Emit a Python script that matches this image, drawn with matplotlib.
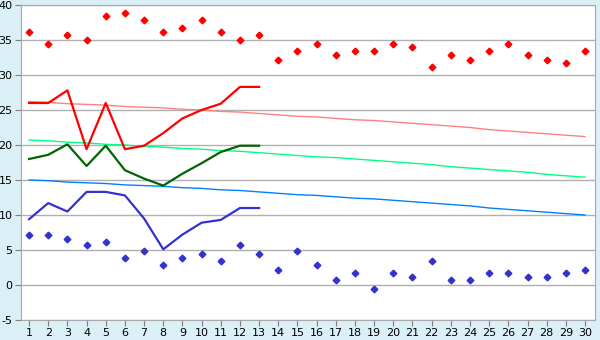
import numpy as np
import matplotlib.pyplot as plt

plt.rcParams['axes.unicode_minus'] = False

days = np.arange(1, 31)

# daily extremes (all month)
tmax_pts = [36.1, 34.4, 35.7, 35.0, 38.4, 38.9, 37.8, 36.1, 36.7, 37.8,
            36.1, 35.0, 35.7, 32.2, 33.4, 34.4, 32.8, 33.4, 33.4, 34.4,
            34.0, 31.1, 32.8, 32.2, 33.4, 34.4, 32.8, 32.2, 31.7, 33.4]
tmin_pts = [7.2, 7.2, 6.6, 5.7, 6.1, 3.9, 4.9, 2.8, 3.9, 4.4,
            3.4, 5.7, 4.4, 2.2, 4.9, 2.8, 0.7, 1.7, -0.6, 1.7,
            1.1, 3.4, 0.7, 0.7, 1.7, 1.7, 1.1, 1.1, 1.7, 2.2]

# observed lines (days 1-13)
obs_max = [26.0, 26.0, 27.8, 19.4, 26.0, 19.4, 19.9, 21.7, 23.8, 25.0, 25.9, 28.3, 28.3]
obs_avg = [18.0, 18.6, 20.1, 17.0, 19.9, 16.4, 15.2, 14.2, 15.9, 17.4, 19.0, 19.9, 19.9]
obs_min = [9.4, 11.7, 10.5, 13.3, 13.3, 12.8, 9.5, 5.1, 7.2, 8.9, 9.3, 11.0, 11.0]

# normals
norm_max = [26.2, 26.1, 25.9, 25.8, 25.7, 25.5, 25.4, 25.3, 25.1, 25.0,
            24.8, 24.7, 24.5, 24.3, 24.1, 24.0, 23.8, 23.6, 23.5, 23.3,
            23.1, 22.9, 22.7, 22.5, 22.2, 22.0, 21.8, 21.6, 21.4, 21.2]
norm_avg = [20.7, 20.6, 20.4, 20.3, 20.1, 20.0, 19.8, 19.7, 19.5, 19.4,
            19.2, 19.1, 18.9, 18.7, 18.5, 18.3, 18.2, 18.0, 17.8, 17.6,
            17.4, 17.2, 16.9, 16.7, 16.5, 16.3, 16.1, 15.8, 15.6, 15.4]
norm_min = [15.0, 14.9, 14.7, 14.6, 14.5, 14.3, 14.2, 14.1, 13.9, 13.8,
            13.6, 13.5, 13.3, 13.1, 12.9, 12.8, 12.6, 12.4, 12.3, 12.1,
            11.9, 11.7, 11.5, 11.3, 11.0, 10.8, 10.6, 10.4, 10.2, 10.0]

fig = plt.figure(figsize=(6, 3.4), dpi=100, facecolor='#daeff6')
ax = fig.add_axes([21/600, 20/340, 574/600, 315/340])
ax.set_facecolor('white')

ax.plot(days, norm_max, color='#ff8080', lw=1)
ax.plot(days, norm_avg, color='#00ff80', lw=1)
ax.plot(days, norm_min, color='#0080ff', lw=1)

d13 = days[:13]
ax.plot(d13, obs_max, color='#ff0000', lw=1.6)
ax.plot(d13, obs_avg, color='#006400', lw=1.6)
ax.plot(d13, obs_min, color='#3333cc', lw=1.6)

ax.plot(days, tmax_pts, ls='none', marker='D', ms=3.4, color='#ff0000')
ax.plot(days, tmin_pts, ls='none', marker='D', ms=3.4, color='#3333cc')

ax.set_xlim(0.58, 30.52)
ax.set_ylim(-5, 40)
ax.set_xticks(days)
ax.set_yticks(np.arange(-5, 41, 5))
ax.yaxis.grid(True, color='#b0b0b0', lw=1)
ax.set_axisbelow(True)
ax.tick_params(labelsize=8, length=4, color='#808080', pad=2)
for s in ax.spines.values():
    s.set_color('#a8a8a8')

fig.savefig('out.png', dpi=100, facecolor=fig.get_facecolor())
